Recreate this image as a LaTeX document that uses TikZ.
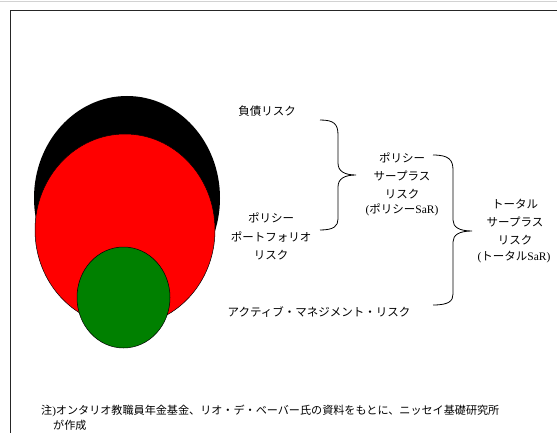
\documentclass[tikz,border=0pt]{standalone}
\usepackage{fontspec}
\setmainfont{Noto Sans CJK JP}
\newfontfamily\lat{Liberation Serif}
\begin{document}
\begin{tikzpicture}[x=1pt,y=-1pt,
  lbl/.style={inner sep=0pt,font=\fontsize{11.5}{14}\selectfont,align=center},
  note/.style={anchor=west,inner sep=0pt,font=\fontsize{11.1}{13}\selectfont},
  brace/.style={draw=black,line width=0.8pt},
  circ/.style={draw=black,line width=0.5pt}]
\useasboundingbox (0,0) rectangle (557,433);
% frame
\draw[gray!35,line width=0.8pt] (0,1) -- (557,1);
\draw[black!85,line width=1.4pt] (10.5,433) -- (10.5,10.5) -- (557,10.5);
% ellipses
\fill[black] (127,198) ellipse [x radius=93,y radius=102];
\filldraw[circ,fill=red] (125,230) ellipse [x radius=90,y radius=96];
\filldraw[circ,fill={rgb,255:red,0;green,128;blue,0}] (123.5,297.5) ellipse [x radius=46.5,y radius=50.5];
% labels
\node[lbl] (fusai) at (267,111) {負債リスク};
\node[lbl] (pp1) at (271,218) {ポリシー};
\node[lbl] (pp2) at (271,237) {ポートフォリオ};
\node[lbl] (pp3) at (271,255) {リスク};
\node[lbl] (act) at (319,312) {アクティブ・マネジメント・リスク};
\node[lbl] (ps1) at (402,158) {ポリシー};
\node[lbl] (ps2) at (402,176) {サープラス};
\node[lbl] (ps3) at (402,194) {リスク};
\node[lbl] (ps4) at (402,210) {{\lat(}ポリシー{\lat SaR)}};
\node[lbl] (ts1) at (515,204) {トータル};
\node[lbl] (ts2) at (515,222) {サープラス};
\node[lbl] (ts3) at (515,240) {リスク};
\node[lbl] (ts4) at (514,257) {{\lat(}トータル{\lat SaR)}};
% braces
\draw[brace] (320,120) .. controls (334,120) and (338,124) .. (338,135)
  -- (338,163) .. controls (338,171) and (344,175) .. (356,175)
  .. controls (344,175) and (338,179) .. (338,187)
  -- (338,219) .. controls (338,226) and (334,230) .. (320,230);
\draw[brace] (433,155) .. controls (449,155) and (453,160) .. (453,170)
  -- (453,220) .. controls (453,227) and (459,231) .. (472,231)
  .. controls (459,231) and (453,235) .. (453,242)
  -- (453,294) .. controls (453,301) and (449,305) .. (433,305);
% note
\node[note] (note1) at (41,411) {注{\lat)}オンタリオ教職員年金基金、リオ・デ・ベーバー氏の資料をもとに、ニッセイ基礎研究所};
\node[note] (note2) at (53,425) {が作成};
\end{tikzpicture}
\end{document}
